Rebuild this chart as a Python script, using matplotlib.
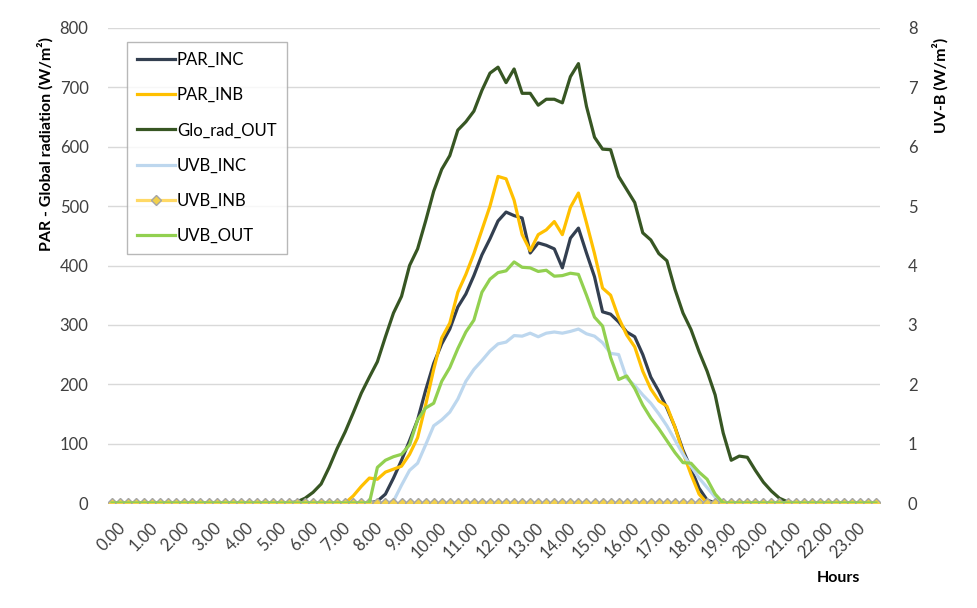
import numpy as np
import matplotlib
matplotlib.use("Agg")
import matplotlib.pyplot as plt
from matplotlib.transforms import ScaledTranslation

plt.rcParams['font.family'] = ['Lato', 'DejaVu Sans']

# Hour labels shown on the category axis (one every 4 quarter-hour samples)
hour_labels = ["0.00", "1.00", "2.00", "3.00", "4.00", "5.00", "6.00", "7.00",
               "8.00", "9.00", "10.00", "11.00", "12.00", "13.00", "14.00", "15.00",
               "16.00", "17.00", "18.00", "19.00", "20.00", "21.00", "22.00", "23.00"]

# Quarter-hour series, W/m2 (left axis)
par_inc = [0, 0, 0, 0, 0, 0, 0, 0, 0, 0, 0, 0, 0, 0, 0, 0, 0, 0, 0, 0, 0, 0, 0, 0,
           0, 0, 0, 0, 0, 0, 0, 0, 0, 3, 15, 42, 72, 105, 140, 190, 235, 268, 293, 330,
           352, 383, 418, 445, 475, 490, 484, 480, 421, 438, 434, 428, 396, 446, 463, 421,
           381, 322, 318, 305, 288, 280, 250, 212, 188, 160, 128, 89, 58, 25, 5, 0,
           0, 0, 0, 0, 0, 0, 0, 0, 0, 0, 0, 0, 0, 0, 0, 0, 0, 0, 0, 0]

par_inb = [0, 0, 0, 0, 0, 0, 0, 0, 0, 0, 0, 0, 0, 0, 0, 0, 0, 0, 0, 0, 0, 0, 0, 0,
           0, 0, 0, 0, 0, 0, 12, 28, 42, 40, 52, 57, 62, 82, 110, 165, 225, 278, 303, 355,
           385, 420, 460, 500, 550, 546, 510, 452, 425, 452, 460, 474, 452, 498, 522, 472,
           420, 362, 350, 312, 283, 263, 222, 192, 172, 163, 128, 85, 48, 15, 0, 0,
           0, 0, 0, 0, 0, 0, 0, 0, 0, 0, 0, 0, 0, 0, 0, 0, 0, 0, 0, 0]

glo_rad_out = [0, 0, 0, 0, 0, 0, 0, 0, 0, 0, 0, 0, 0, 0, 0, 0, 0, 0, 0, 0, 0, 0, 0, 2,
               8, 18, 32, 60, 92, 120, 152, 185, 212, 238, 280, 320, 348, 400, 428, 475,
               525, 562, 585, 628, 642, 660, 695, 724, 734, 708, 731, 690, 690, 670, 680, 680,
               674, 718, 740, 668, 616, 596, 595, 550, 528, 506, 455, 443, 420, 408, 360, 320,
               292, 255, 222, 182, 118, 72, 79, 77, 55, 35, 20, 8, 2, 0, 0, 0,
               0, 0, 0, 0, 0, 0, 0, 0]

# Quarter-hour UV-B series, W/m2 (right axis)
uvb_inc = [0, 0, 0, 0, 0, 0, 0, 0, 0, 0, 0, 0, 0, 0, 0, 0, 0, 0, 0, 0, 0, 0, 0, 0,
           0, 0, 0, 0, 0, 0, 0, 0, 0, 0, 0, 0.03, 0.30, 0.55, 0.67, 0.98, 1.30, 1.40, 1.53, 1.75,
           2.05, 2.25, 2.40, 2.56, 2.68, 2.71, 2.82, 2.81, 2.86, 2.80, 2.86, 2.88, 2.86, 2.89, 2.93, 2.85,
           2.81, 2.70, 2.52, 2.50, 2.10, 1.98, 1.82, 1.68, 1.50, 1.30, 1.06, 0.82, 0.62, 0.42, 0.26, 0.10,
           0, 0, 0, 0, 0, 0, 0, 0, 0, 0, 0, 0, 0, 0, 0, 0, 0, 0, 0, 0]

uvb_inb = [0, 0, 0, 0, 0, 0, 0, 0, 0, 0, 0, 0, 0, 0, 0, 0, 0, 0, 0, 0, 0, 0, 0, 0,
           0, 0, 0, 0, 0, 0, 0, 0, 0, 0, 0, 0, 0, 0, 0, 0, 0, 0, 0, 0, 0, 0, 0, 0,
           0, 0, 0, 0, 0, 0, 0, 0, 0, 0, 0, 0, 0, 0, 0, 0, 0, 0, 0, 0, 0, 0, 0, 0,
           0, 0, 0, 0, 0, 0, 0, 0, 0, 0, 0, 0, 0, 0, 0, 0, 0, 0, 0, 0, 0, 0, 0, 0]

uvb_out = [0, 0, 0, 0, 0, 0, 0, 0, 0, 0, 0, 0, 0, 0, 0, 0, 0, 0, 0, 0, 0, 0, 0, 0,
           0, 0, 0, 0, 0, 0, 0, 0, 0, 0.60, 0.72, 0.78, 0.82, 0.98, 1.40, 1.60, 1.68, 2.05, 2.28, 2.60,
           2.88, 3.08, 3.55, 3.77, 3.88, 3.91, 4.06, 3.97, 3.96, 3.90, 3.92, 3.82, 3.83, 3.87, 3.85, 3.50,
           3.13, 2.98, 2.45, 2.08, 2.14, 1.93, 1.65, 1.43, 1.25, 1.05, 0.85, 0.68, 0.67, 0.52, 0.40, 0.15,
           0, 0, 0, 0, 0, 0, 0, 0, 0, 0, 0, 0, 0, 0, 0, 0, 0, 0, 0, 0]

W, H = 977, 608
fig = plt.figure(figsize=(W / 100, H / 100), dpi=100)
fig.patch.set_facecolor('white')

# plot area in pixel coordinates
left_px, right_px, top_px, bottom_px = 108, 880, 28, 503
ax = fig.add_axes([left_px / W, 1 - bottom_px / H,
                   (right_px - left_px) / W, (bottom_px - top_px) / H])
ax2 = ax.twinx()

x = np.arange(len(par_inc))
lw = 2.3

ax.plot(x, par_inc, color='#333F50', lw=lw, label='PAR_INC', zorder=3)
ax.plot(x, par_inb, color='#FFC000', lw=lw, label='PAR_INB', zorder=3)
ax.plot(x, glo_rad_out, color='#375623', lw=lw, label='Glo_rad_OUT', zorder=3)

ax2.plot(x, uvb_inc, color='#BDD7EE', lw=lw, label='UVB_INC', zorder=3)
ax2.plot(x, uvb_inb, color='#FFD966', lw=lw, marker='D', markersize=5.5,
         markerfacecolor='#F2D04A', markeredgecolor='#A5A5A5', markeredgewidth=1.0,
         label='UVB_INB', zorder=3)
ax2.plot(x, uvb_out, color='#92D050', lw=lw, label='UVB_OUT', zorder=3)

for a in (ax, ax2):
    a.set_xlim(-0.5, len(par_inc) - 0.5)
    for s in a.spines.values():
        s.set_visible(False)
    a.tick_params(length=0)

ax.set_ylim(0, 800)
ax.set_yticks(np.arange(0, 801, 100))
ax2.set_ylim(0, 8)
ax2.set_yticks(np.arange(0, 9, 1))
ax.grid(axis='y', color='#D9D9D9', lw=1.0, zorder=0)
ax.set_axisbelow(True)

fs = 12
ax.tick_params(axis='y', pad=14, labelsize=fs, labelcolor='#404040')
ax2.tick_params(axis='y', pad=20, labelsize=fs, labelcolor='#404040')

ax.set_xticks(np.arange(0, len(par_inc), 4))
ax.set_xticklabels(hour_labels, rotation=45, ha='right', va='top',
                   rotation_mode='anchor', fontsize=fs, color='#404040')
ax.tick_params(axis='x', pad=12)
shift = ScaledTranslation(5 / 100, 0, fig.dpi_scale_trans)
for lab in ax.get_xticklabels():
    lab.set_transform(lab.get_transform() + shift)

fig.text(45 / W, 1 - 37 / H, 'PAR - Global radiation (W/m²)', rotation=90,
         ha='center', va='top', fontsize=11.5, fontweight='bold', color='#000000')
fig.text(940 / W, 1 - 38 / H, 'UV-B (W/m²)', rotation=90,
         ha='center', va='top', fontsize=11.5, fontweight='bold', color='#000000')
fig.text(838 / W, 1 - 578 / H, 'Hours', ha='center', va='center',
         fontsize=11.5, fontweight='bold', color='#000000')

h1, l1 = ax.get_legend_handles_labels()
h2, l2 = ax2.get_legend_handles_labels()
leg = ax2.legend(h1 + h2, l1 + l2, loc='upper left',
                 bbox_to_anchor=(127 / W, 1 - 42 / H), bbox_transform=fig.transFigure,
                 frameon=True, fancybox=False, shadow=False, fontsize=fs,
                 handlelength=2.3, handletextpad=0.1, labelspacing=1.15,
                 borderpad=0.6, borderaxespad=0)
leg.get_frame().set_edgecolor('#A6A6A6')
leg.get_frame().set_linewidth(1.0)
for t in leg.get_texts():
    t.set_color('#000000')

fig.savefig('out.png', dpi=100, facecolor='white')
